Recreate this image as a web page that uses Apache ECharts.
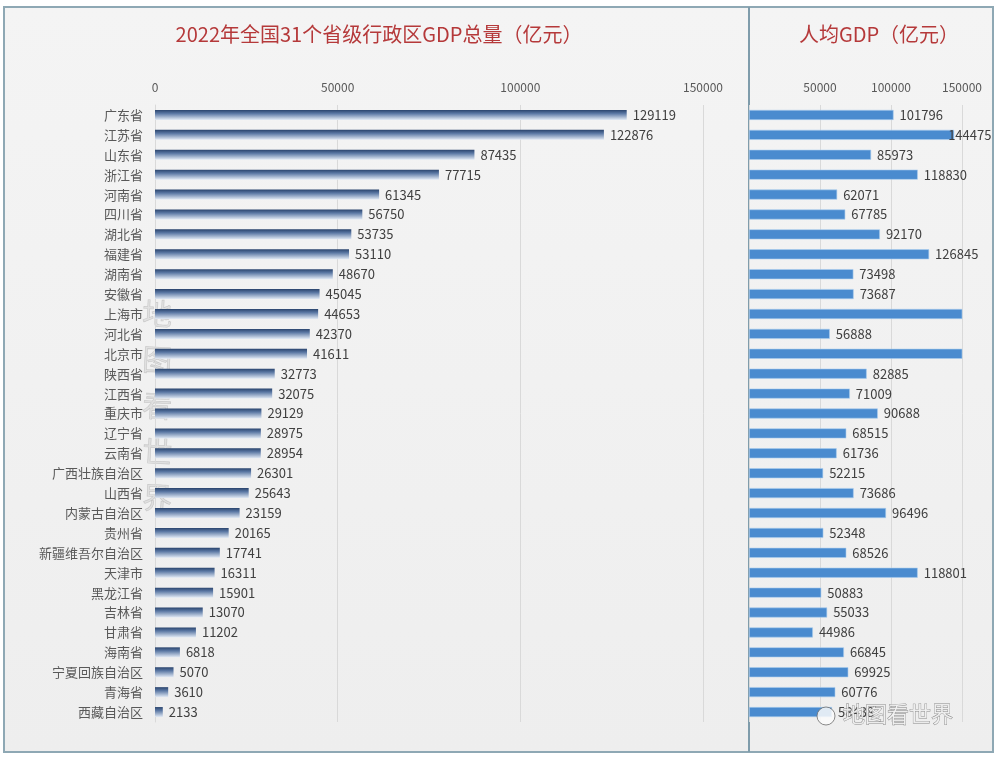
<!DOCTYPE html>
<html>
<head>
<meta charset="utf-8">
<script src="https://cdn.jsdelivr.net/npm/echarts@6/dist/echarts.min.js"></script>
<style>
html,body{margin:0;padding:0;background:#ffffff;}
#c{width:1000px;height:762px;}
</style>
</head>
<body>
<div id="c"></div>
<script>
const provinces = ['广东省','江苏省','山东省','浙江省','河南省','四川省','湖北省','福建省','湖南省','安徽省','上海市','河北省','北京市','陕西省','江西省','重庆市','辽宁省','云南省','广西壮族自治区','山西省','内蒙古自治区','贵州省','新疆维吾尔自治区','天津市','黑龙江省','吉林省','甘肃省','海南省','宁夏回族自治区','青海省','西藏自治区'];
const gdpTotal = [129119,122876,87435,77715,61345,56750,53735,53110,48670,45045,44653,42370,41611,32773,32075,29129,28975,28954,26301,25643,23159,20165,17741,16311,15901,13070,11202,6818,5070,3610,2133];
const gdpPerCapita = [101796,144475,85973,118830,62071,67785,92170,126845,73498,73687,179907,56888,190313,82885,71009,90688,68515,61736,52215,73686,96496,52348,68526,118801,50883,55033,44986,66845,69925,60776,58438];
const leftTicks = [0,50000,100000,150000];
const rightTicks = [50000,100000,150000];
const titleLeft = '2022年全国31个省级行政区GDP总量（亿元）';
const titleRight = '人均GDP（亿元）';

const chart = echarts.init(document.getElementById('c'));
const FONT = '"Noto Sans CJK SC", "Noto Sans", sans-serif';
const AXMAX = 150000;

const perCapitaData = gdpPerCapita.map(v => (v > 140000 && v <= AXMAX)
  ? {value: v, label: {offset: [-12, 0]}} : v);

chart.setOption({
  backgroundColor: '#ffffff',
  animation: false,
  title: [
    {text: titleLeft, left: 374, top: 19, textAlign: 'center',
     textStyle:{fontFamily: FONT, fontSize: 20, fontWeight: 'normal', color: '#b5393a'}},
    {text: titleRight, left: 874, top: 19, textAlign: 'center',
     textStyle:{fontFamily: FONT, fontSize: 20, fontWeight: 'normal', color: '#b5393a'}}
  ],
  graphic: [
    {type:'rect', z:-10, shape:{x:4, y:7, width:989, height:745},
     style:{fill: new echarts.graphic.LinearGradient(0,0,0,1,[{offset:0,color:'#f4f4f4'},{offset:1,color:'#eeeeee'}]), stroke:'#8ea8b4', lineWidth:2}},
    {type:'line', z:-5, shape:{x1:749, y1:7, x2:749, y2:752}, style:{stroke:'#7f9cab', lineWidth:2}},
    {type:'group', z:5, children: ['地','图','看','世','界'].map((ch,i)=>({
      type:'text', x:143, y:298+i*46, rotation:-0.05,
      style:{text:ch, font:'30px "Noto Sans CJK SC"', fill:'rgba(160,160,160,0.2)', stroke:'rgba(120,120,120,0.3)', lineWidth:0.6}
    }))},
    {type:'text', z:20, x:843, y:703,
     style:{text:'地图看世界', font:'22px "Noto Sans CJK SC"', fill:'rgba(245,245,245,0.85)', stroke:'rgba(110,110,110,0.8)', lineWidth:0.8}},
    {type:'circle', z:20, shape:{cx:826, cy:716, r:9}, style:{fill:'rgba(250,250,250,0.85)', stroke:'rgba(110,110,110,0.8)', lineWidth:1}}
  ],
  grid: [
    {left:155, right:297, top:105, bottom:40},
    {left:749, right:38, top:105, bottom:40}
  ],
  xAxis: [
    {type:'value', gridIndex:0, position:'top', min:0, max:AXMAX, interval:50000,
     axisLine:{show:false}, axisTick:{show:false},
     splitLine:{lineStyle:{color:'#d9d9d9', width:1}},
     axisLabel:{fontFamily: FONT, fontSize:12, color:'#595959', margin:12,
       formatter: v => leftTicks.indexOf(v) >= 0 ? String(v) : ''}},
    {type:'value', gridIndex:1, position:'top', min:0, max:AXMAX, interval:50000,
     axisLine:{show:false}, axisTick:{show:false},
     splitLine:{lineStyle:{color:'#d9d9d9', width:1}},
     axisLabel:{fontFamily: FONT, fontSize:12, color:'#595959', margin:12, showMinLabel:false,
       formatter: v => rightTicks.indexOf(v) >= 0 ? String(v) : ''}}
  ],
  yAxis: [
    {type:'category', gridIndex:0, data: provinces, inverse:true,
     axisLine:{show:true, lineStyle:{color:'#d9d9d9'}}, axisTick:{show:false},
     axisLabel:{fontFamily: FONT, fontSize:13, color:'#595959', margin:12}},
    {type:'category', gridIndex:1, data: provinces, inverse:true,
     axisLine:{show:false}, axisTick:{show:false}, axisLabel:{show:false}}
  ],
  series: [
    {type:'bar', xAxisIndex:0, yAxisIndex:0, data: gdpTotal, barWidth:10,
     itemStyle:{color: new echarts.graphic.LinearGradient(0,0,0,1,[
       {offset:0,color:'#2a446d'},{offset:0.35,color:'#5a77a3'},{offset:1,color:'#e2eaf5'}])},
     label:{show:true, position:'right', distance:6, fontFamily: FONT, fontSize:13, color:'#404040'}},
    {type:'bar', xAxisIndex:1, yAxisIndex:1, data: perCapitaData, barWidth:10,
     itemStyle:{color:'#4a8bcf', borderColor:'#a9cdee', borderWidth:0.6},
     label:{show:true, position:'right', distance:6, fontFamily: FONT, fontSize:13, color:'#404040',
       formatter: p => p.value > AXMAX ? '' : String(p.value)}}
  ]
});
</script>
</body>
</html>
